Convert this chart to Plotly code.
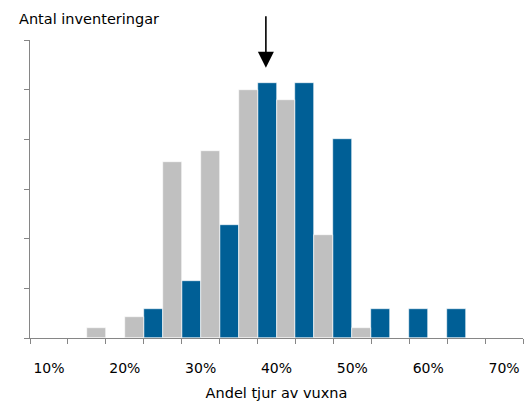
import plotly.graph_objects as go

# Bin centres (share of males among adults, %)
bins = [10, 15, 20, 25, 30, 35, 40, 45, 50, 55, 60, 65, 70]
tick_vals = [10, 20, 30, 40, 50, 60, 70]
tick_text = ["10%", "20%", "30%", "40%", "50%", "60%", "70%"]

# Share of inventories per bin (%)
blue_vals = [0, 0, 0, 2.9, 5.7, 11.4, 25.7, 25.7, 20.0, 2.9, 2.9, 2.9, 0]
gray_vals = [0, 1.0, 2.1, 17.7, 18.8, 25.0, 24.0, 10.4, 1.0, 0, 0, 0, 0]

arrow_x = 38.6
arrow_y = 27.2

BLUE = "#005F96"
GRAY = "#C0C0C0"
AXIS = "#868686"
FONT = "DejaVu Sans"

fig = go.Figure()
fig.add_trace(go.Bar(x=bins, y=blue_vals, marker=dict(color=BLUE, line=dict(color="white", width=0.6)),
                     showlegend=False, hoverinfo="skip"))
fig.add_trace(go.Bar(x=bins, y=gray_vals, marker=dict(color=GRAY, line=dict(color="white", width=0.6)),
                     showlegend=False, hoverinfo="skip"))

fig.update_layout(
    width=526, height=401,
    margin=dict(l=30, r=3, t=40, b=63),
    paper_bgcolor="white", plot_bgcolor="white",
    barmode="group", bargap=0, bargroupgap=0,
    font=dict(family=FONT, size=14, color="#000000"),
)

fig.update_xaxes(
    range=[7.5, 72.5], automargin=False,
    tickmode="array", tickvals=tick_vals, ticktext=tick_text,
    ticks="", showgrid=False, zeroline=False,
    showline=True, linecolor=AXIS, linewidth=1,
    tickfont=dict(family=FONT, size=14, color="#000000"),
    ticklabelstandoff=17,
    minor=dict(tick0=7.5, dtick=5, ticks="outside", ticklen=5, tickcolor=AXIS, tickwidth=1, showgrid=False),
    title=dict(text="Andel tjur av vuxna", font=dict(family=FONT, size=14.5), standoff=15),
)
fig.update_yaxes(
    range=[0, 30], automargin=False, tickmode="array", tickvals=[0, 5, 10, 15, 20, 25, 30],
    showticklabels=False, ticks="outside", ticklen=5, tickcolor=AXIS,
    showgrid=False, zeroline=False, showline=True, linecolor=AXIS, linewidth=1,
)

fig.add_annotation(
    x=arrow_x, y=arrow_y, xref="x", yref="y",
    showarrow=True, ax=0, ay=-53, axref="pixel", ayref="pixel",
    arrowhead=2, arrowsize=2.0, arrowwidth=1.6, arrowcolor="black", text="",
)

fig.add_annotation(
    text="Antal inventeringar", xref="paper", yref="paper", x=-0.027, y=1.0,
    yshift=21, xanchor="left", yanchor="middle", showarrow=False,
    font=dict(family=FONT, size=14.5, color="#000000"),
)

fig.write_html("out.html", config={"displayModeBar": False},
               post_script="document.body.style.margin='0';")
